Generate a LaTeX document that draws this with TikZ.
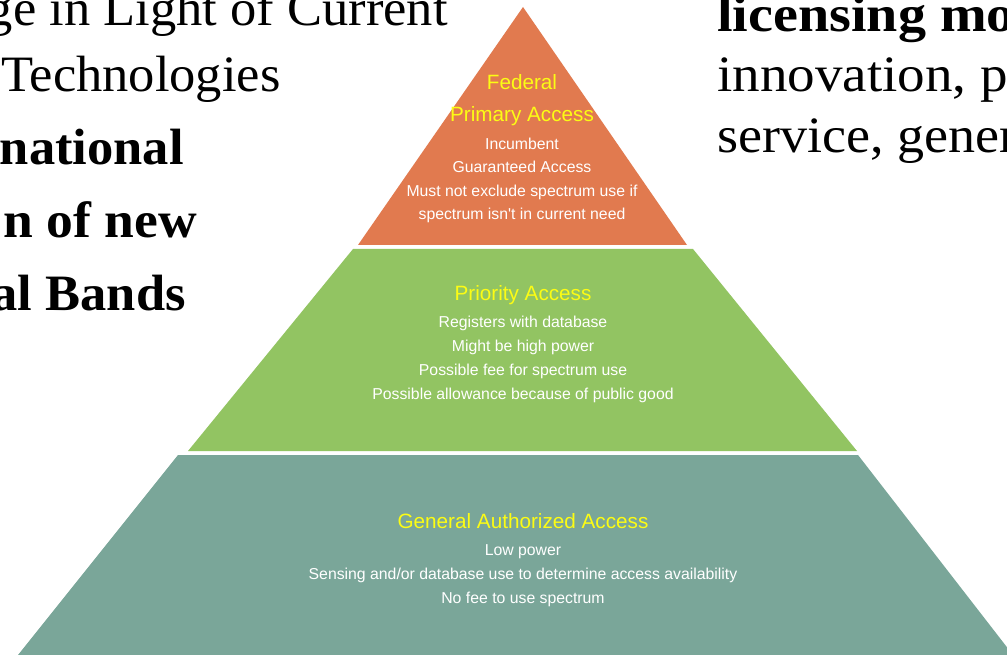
\documentclass[tikz,border=0pt]{standalone}
\usepackage{fontspec}
\setmainfont{Liberation Serif}
\newfontfamily\arialfont{Liberation Sans}
\definecolor{tierA}{RGB}{225,122,79}
\definecolor{tierB}{RGB}{146,196,98}
\definecolor{tierC}{RGB}{122,166,153}
\definecolor{ylw}{RGB}{252,252,20}
\tikzset{
  sidetext/.style={inner sep=0pt, font=\fontsize{51}{51}\selectfont},
  sidebold/.style={inner sep=0pt, font=\fontsize{51}{51}\selectfont\bfseries},
  tierhead/.style={inner sep=0pt, anchor=base, text=ylw, font=\arialfont\fontsize{20.7}{20.7}\selectfont},
  tieritem/.style={inner sep=0pt, anchor=base, text=white, font=\arialfont\fontsize{15.8}{15.8}\selectfont},
}
\begin{document}
\begin{tikzpicture}[x=1pt,y=-1pt]
\useasboundingbox (0,0) rectangle (1007,655);
\fill[white] (0,0) rectangle (1007,655);
\clip (0,0) rectangle (1007,655);
% side texts
\node[sidetext, anchor=base east, xscale=1.03] (l1) at (448,26) {ge in Light of Current};
\node[sidetext, anchor=base west, xscale=1.03] (l2) at (1,92) {Technologies};
\node[sidebold, anchor=base east, xscale=1.03] (l3) at (184,165) {national};
\node[sidebold, anchor=base east, xscale=1.05] (l4) at (197,238) {n of new};
\node[sidebold, anchor=base east, xscale=1.03] (l5) at (186,310) {al Bands};
\node[sidebold, anchor=base west, xscale=1.1] (r1) at (717,32) {licensing mo};
\node[sidetext, anchor=base west, xscale=1.08] (r2) at (717,92) {innovation, p};
\node[sidetext, anchor=base west, xscale=1.06] (r3) at (717,153) {service, gener};
% tiers
\fill[tierA] (523,7) -- (687,245) -- (358,245) -- cycle;
\fill[tierB] (353,249) -- (693,249) -- (857,451) -- (188,451) -- cycle;
\fill[tierC] (178,455) -- (858,455) -- (1013,655) -- (18,655) -- cycle;
% top tier
\node[tierhead] (a1) at (522,89.5) {Federal};
\node[tierhead] (a2) at (522,122) {Primary Access};
\node[tieritem] (a3) at (522,149.5) {Incumbent};
\node[tieritem] (a4) at (522,173) {Guaranteed Access};
\node[tieritem] (a5) at (522,197) {Must not exclude spectrum use if};
\node[tieritem] (a6) at (522,219.5) {spectrum isn't in current need};
% middle tier
\node[tierhead] (b1) at (523,300) {Priority Access};
\node[tieritem] (b2) at (523,327.5) {Registers with database};
\node[tieritem] (b3) at (523,351) {Might be high power};
\node[tieritem] (b4) at (523,375) {Possible fee for spectrum use};
\node[tieritem] (b5) at (523,399) {Possible allowance because of public good};
% bottom tier
\node[tierhead] (c1) at (523,528.5) {General Authorized Access};
\node[tieritem] (c2) at (523,555.5) {Low power};
\node[tieritem] (c3) at (523,579.5) {Sensing and/or database use to determine access availability};
\node[tieritem] (c4) at (523,603.5) {No fee to use spectrum};
\end{tikzpicture}
\end{document}
